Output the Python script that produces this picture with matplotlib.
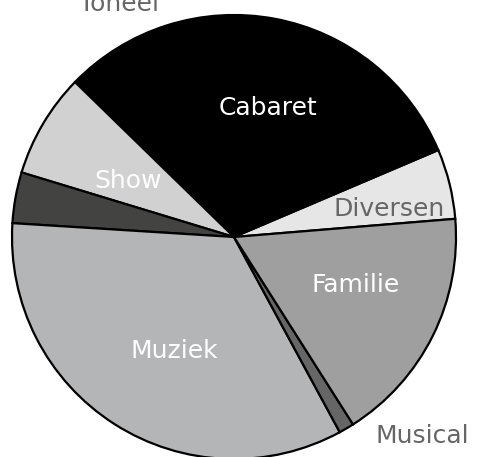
import numpy as np
import matplotlib.pyplot as plt

# Share of each genre (percent), counterclockwise starting at the Diversen slice
genres = ['Diversen', 'Cabaret', 'Show', 'Toneel', 'Muziek', 'Musical', 'Familie']
shares = [5.1, 31.3, 7.6, 3.7, 33.9, 1.1, 17.3]
colors = ['#e6e6e6', '#000000', '#d0d1d0', '#434341', '#b4b5b7', '#666666', '#9f9f9f']

plt.rcParams['font.family'] = ['DejaVu Sans']

fig = plt.figure(figsize=(4.78, 4.57), dpi=100)
ax = fig.add_axes([12 / 478, -2 / 457, 444 / 478, 444 / 457])

wedges, _ = ax.pie(shares, colors=colors, startangle=4.7, counterclock=True,
                   radius=1, center=(0, 0), frame=True,
                   wedgeprops=dict(edgecolor='black', linewidth=1.6))
ax.set_xlim(-1, 1)
ax.set_ylim(-1, 1)
ax.axis('off')

# label placement: radius factor and angle tweak per slice
inside = {
    'Cabaret': (0.60, -4, 'white'),
    'Show': (0.54, 2.5, 'white'),
    'Diversen': (0.71, -3.5, '#666666'),
    'Familie': (0.59, 5, 'white'),
    'Muziek': (0.58, 5, 'white'),
}
fs = 18
for w, name in zip(wedges, genres):
    mid = (w.theta1 + w.theta2) / 2
    if name in inside:
        r, tweak, c = inside[name]
        a = np.deg2rad(mid + tweak)
        ax.text(r * np.cos(a), r * np.sin(a), name, color=c, fontsize=fs,
                ha='center', va='center')
    elif name == 'Musical':
        a = np.deg2rad(mid + 5)
        ax.text(1.1 * np.cos(a), 1.1 * np.sin(a), name, color='#666666',
                fontsize=fs, ha='left', va='center')
    elif name == 'Toneel':
        ax.text(-0.52, 1.05, name, color='#666666', fontsize=fs,
                ha='center', va='center', clip_on=False)

fig.savefig('out.png', dpi=100)
